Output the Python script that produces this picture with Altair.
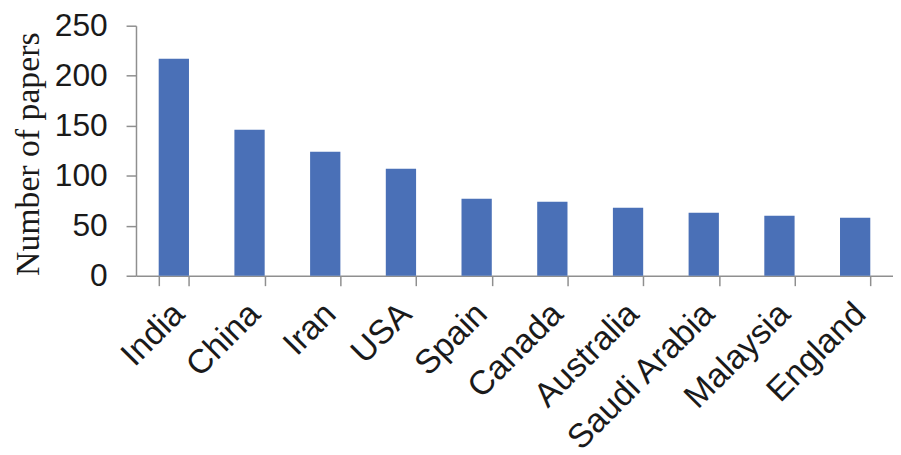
import altair as alt
import pandas as pd

countries = ["India", "China", "Iran", "USA", "Spain", "Canada", "Australia",
             "Saudi Arabia", "Malaysia", "England"]
papers = [217, 146, 124, 107, 77, 74, 68, 63, 60, 58]

df = pd.DataFrame({"country": countries, "papers": papers})

axis_color = "#8f8f8f"

chart = alt.Chart(df).mark_bar(color="#4a70b7").encode(
    x=alt.X("country:N", sort=countries, title=None,
            scale=alt.Scale(paddingInner=0.6, paddingOuter=0.3),
            axis=alt.Axis(labelAngle=-45, labelAlign="right", labelBaseline="top",
                          labelFont="Liberation Sans", labelFontSize=34,
                          labelColor="#1a1a1a", labelPadding=11, labelOffset=-7,
                          labelLimit=400,
                          tickBand="extent", tickSize=10, tickColor=axis_color,
                          tickWidth=1.5, domainColor=axis_color, domainWidth=1.5,
                          labelOverlap=False, labelBound=False)),
    y=alt.Y("papers:Q", title="Number of papers",
            scale=alt.Scale(domain=[0, 250], nice=False),
            axis=alt.Axis(values=[0, 50, 100, 150, 200, 250], grid=False,
                          labelFont="Liberation Sans", labelFontSize=32,
                          labelColor="#1a1a1a", labelPadding=19,
                          tickSize=10, tickColor=axis_color, tickWidth=1.5,
                          domainColor=axis_color, domainWidth=1.5,
                          titleFont="Liberation Serif", titleFontSize=34,
                          titleFontWeight="normal", titleColor="#1a1a1a",
                          titleX=-108, titleY=129, titleAngle=-90,
                          titleBaseline="middle", titleAlign="center")),
).properties(
    width=763, height=252,
    autosize=alt.AutoSizeParams(type="none"),
    padding={"left": 129, "top": 16, "right": 0, "bottom": 200},
).configure(background="white").configure_view(stroke=None)

chart.save("out.html", embed_options={"renderer": "svg", "actions": False})
